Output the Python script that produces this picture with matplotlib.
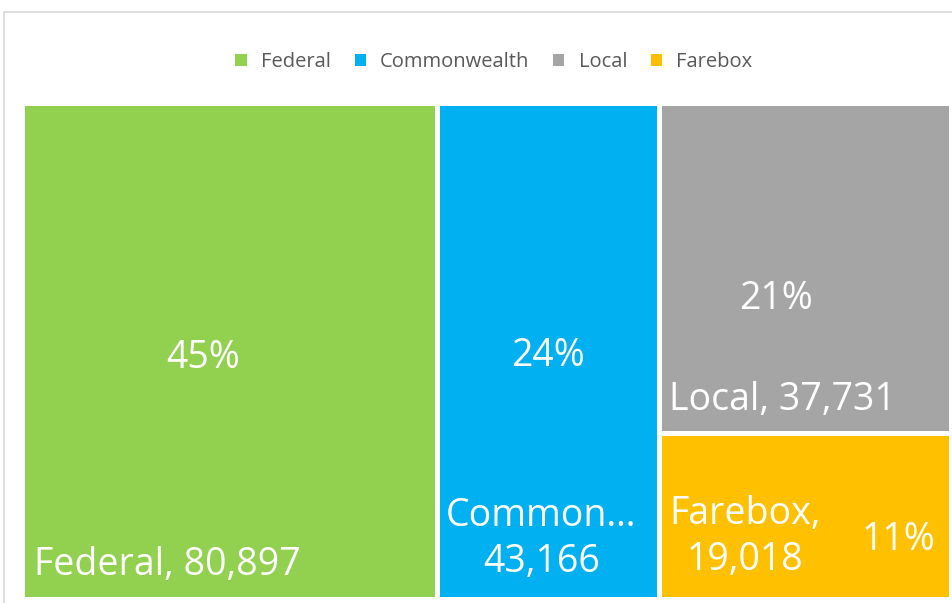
import matplotlib.pyplot as plt
from matplotlib.patches import Rectangle

# Data
categories = ["Federal", "Commonwealth", "Local", "Farebox"]
values = [80897, 43166, 37731, 19018]
percent_labels = ["45%", "24%", "21%", "11%"]
box_labels = ["Federal, 80,897", "Common…\n43,166", "Local, 37,731", "Farebox,\n19,018"]
colors = ["#92D050", "#00B0F0", "#A5A5A5", "#FFC000"]

plt.rcParams['font.family'] = ['Open Sans', 'DejaVu Sans']

W, H = 952, 603
fig = plt.figure(figsize=(W / 100, H / 100), dpi=100)

# light frame around the visual
fig.patches.append(Rectangle((4 / W, -0.05), 1.1, 1 - 12 / H + 0.05, transform=fig.transFigure,
                             fill=False, edgecolor="#D9D9D9", linewidth=1.2))

# treemap area in pixels (expanded by half of the white gap)
gap = 5
x0, x1, y0, y1 = 24 - gap / 2, 948 + gap / 2, 106 - gap / 2, 596 + gap / 2
ax = fig.add_axes([x0 / W, (H - y1) / H, (x1 - x0) / W, (y1 - y0) / H])
ax.set_xlim(0, 1)
ax.set_ylim(0, 1)
ax.axis("off")

# slice-and-dice layout: Federal | Commonwealth | (Local over Farebox)
total = sum(values)
fx = values[0] / total
cx = values[1] / total
rest = values[2] + values[3]
ly = values[2] / rest
boxes = [
    (0, 0, fx, 1),
    (fx, 0, cx, 1),
    (fx + cx, 1 - ly, 1 - fx - cx, ly),
    (fx + cx, 0, 1 - fx - cx, 1 - ly),
]

for (bx, by, bw, bh), c in zip(boxes, colors):
    ax.add_patch(Rectangle((bx, by), bw, bh, facecolor=c, edgecolor="white",
                           linewidth=gap * 72 / 100))

# label positions inside each box (fractions of box, from left / bottom)
pct_pos = [(0.437, 0.486), (0.5, 0.49), (0.40, 0.405), (0.82, 0.355)]
name_pos = [(0.03, 0.067), (0.04, 0.12), (0.035, 0.10), (0.035, 0.37)]
fs = 27

for (bx, by, bw, bh), p, (px, py) in zip(boxes, percent_labels, pct_pos):
    ax.text(bx + bw * px, by + bh * py, p, color="white", fontsize=fs,
            ha="center", va="center")

for (bx, by, bw, bh), t, (nx, ny) in zip(boxes, box_labels, name_pos):
    ax.text(bx + bw * nx, by + bh * ny, t, color="white", fontsize=fs,
            ha="left", va="center", multialignment="center", linespacing=1.3)

# legend
handles = [Rectangle((0, 0), 1, 1, facecolor=c, edgecolor="none") for c in colors]
fig.legend(handles, categories, loc="center", bbox_to_anchor=(494 / W, 1 - 62 / H),
           ncol=4, frameon=False, fontsize=14.5, handlelength=0.55, handleheight=0.55,
           handletextpad=0.7, columnspacing=1.2, labelcolor="#595959")

fig.savefig("out.png", dpi=100)
